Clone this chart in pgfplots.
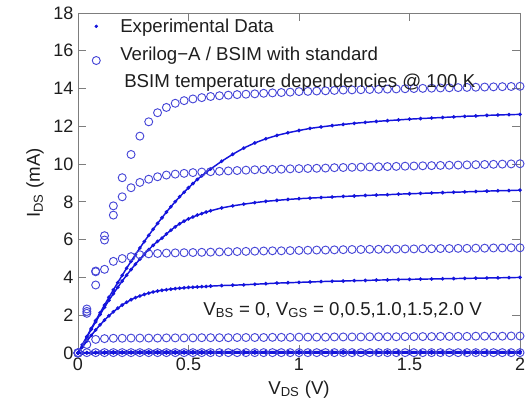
\documentclass[border=0pt]{standalone}
\usepackage{pgfplots}
\pgfplotsset{compat=1.18}
\usepackage{pgfplotstable}
\usepackage{fontspec}
\setmainfont{Liberation Sans}
\definecolor{expblue}{RGB}{20,20,220}
\definecolor{modblue}{RGB}{70,70,215}
\definecolor{axgray}{RGB}{125,125,125}
\definecolor{txt}{RGB}{30,30,30}

% model (circles): x, VGS=0, 0.5, 1.0, 1.5, 2.0
\pgfplotstableread{
x c0 c1 c2 c3 c4
0.00 0.02 0.00 0.00 0.00 0.00
0.04 0.02 0.45 2.10 2.20 2.33
0.08 0.02 0.72 3.60 4.30 4.34
0.12 0.02 0.76 4.43 5.98 6.21
0.16 0.02 0.78 4.85 7.30 7.79
0.20 0.02 0.78 5.00 8.27 9.28
0.24 0.02 0.79 5.10 8.75 10.51
0.28 0.02 0.79 5.20 9.03 11.48
0.32 0.02 0.79 5.25 9.20 12.24
0.36 0.02 0.79 5.27 9.33 12.72
0.40 0.02 0.80 5.29 9.42 13.00
0.44 0.02 0.80 5.30 9.47 13.22
0.48 0.02 0.80 5.31 9.51 13.36
0.52 0.02 0.80 5.32 9.55 13.45
0.56 0.02 0.81 5.33 9.58 13.52
0.60 0.02 0.81 5.34 9.60 13.58
0.64 0.02 0.81 5.35 9.62 13.62
0.68 0.02 0.81 5.36 9.64 13.65
0.72 0.02 0.82 5.37 9.66 13.68
0.76 0.02 0.82 5.38 9.68 13.70
0.80 0.02 0.82 5.39 9.70 13.72
0.84 0.02 0.82 5.40 9.71 13.75
0.88 0.02 0.83 5.41 9.72 13.77
0.92 0.02 0.83 5.41 9.73 13.79
0.96 0.02 0.83 5.42 9.75 13.81
1.00 0.02 0.84 5.43 9.76 13.84
1.04 0.02 0.84 5.44 9.77 13.85
1.08 0.02 0.84 5.45 9.78 13.87
1.12 0.02 0.84 5.45 9.79 13.88
1.16 0.02 0.85 5.46 9.81 13.90
1.20 0.02 0.85 5.47 9.82 13.92
1.24 0.02 0.85 5.48 9.83 13.93
1.28 0.02 0.85 5.48 9.84 13.94
1.32 0.02 0.86 5.49 9.85 13.95
1.36 0.02 0.86 5.49 9.86 13.96
1.40 0.02 0.86 5.50 9.87 13.97
1.44 0.02 0.86 5.50 9.88 13.98
1.48 0.02 0.87 5.51 9.89 13.99
1.52 0.02 0.87 5.51 9.90 14.00
1.56 0.02 0.87 5.52 9.91 14.01
1.60 0.02 0.87 5.52 9.92 14.02
1.64 0.02 0.88 5.53 9.93 14.03
1.68 0.02 0.88 5.53 9.94 14.04
1.72 0.02 0.88 5.54 9.95 14.05
1.76 0.02 0.88 5.54 9.96 14.06
1.80 0.02 0.89 5.55 9.97 14.07
1.84 0.02 0.89 5.55 9.98 14.08
1.88 0.02 0.89 5.56 9.99 14.09
1.92 0.02 0.89 5.56 10.00 14.10
1.96 0.02 0.90 5.57 10.01 14.11
2.00 0.02 0.90 5.57 10.02 14.12
}\modeldata

% experimental (dots): x, VGS=0, 0.5, 1.0, 1.5, 2.0
\pgfplotstableread{
x e0 e1 e2 e3 e4
0.00 0 0.00 0.00 0.00 0.00
0.02 0 0.01 0.32 0.42 0.44
0.04 0 0.02 0.63 0.84 0.87
0.06 0 0.03 0.93 1.25 1.30
0.08 0 0.04 1.22 1.65 1.72
0.10 0 0.05 1.49 2.04 2.13
0.12 0 0.05 1.74 2.42 2.54
0.14 0 0.06 1.97 2.79 2.95
0.16 0 0.06 2.18 3.14 3.34
0.18 0 0.06 2.37 3.48 3.73
0.20 0 0.06 2.54 3.81 4.11
0.22 0 0.06 2.69 4.12 4.49
0.24 0 0.06 2.82 4.42 4.85
0.26 0 0.07 2.93 4.70 5.21
0.28 0 0.07 3.02 4.97 5.56
0.30 0 0.07 3.10 5.23 5.90
0.32 0 0.07 3.17 5.47 6.23
0.34 0 0.07 3.23 5.70 6.55
0.36 0 0.07 3.28 5.91 6.86
0.38 0 0.07 3.32 6.08 7.16
0.40 0 0.07 3.35 6.30 7.46
0.42 0 0.07 3.38 6.50 7.74
0.44 0 0.07 3.41 6.68 8.01
0.46 0 0.07 3.43 6.84 8.27
0.48 0 0.07 3.45 6.98 8.51
0.50 0 0.07 3.47 7.10 8.75
0.52 0 0.07 3.48 7.20 8.97
0.54 0 0.07 3.50 7.30 9.19
0.56 0 0.07 3.51 7.38 9.38
0.58 0 0.07 3.52 7.46 9.57
0.60 0 0.07 3.54 7.53 9.74
0.65 0 0.07 3.57 7.68 10.15
0.70 0 0.08 3.59 7.79 10.52
0.75 0 0.08 3.61 7.88 10.85
0.80 0 0.08 3.64 7.96 11.12
0.85 0 0.08 3.67 8.03 11.34
0.90 0 0.08 3.70 8.08 11.52
0.95 0 0.08 3.72 8.13 11.66
1.00 0 0.08 3.74 8.17 11.78
1.05 0 0.08 3.76 8.20 11.89
1.10 0 0.08 3.78 8.23 11.97
1.15 0 0.08 3.80 8.26 12.04
1.20 0 0.08 3.81 8.29 12.10
1.25 0 0.08 3.83 8.31 12.16
1.30 0 0.08 3.84 8.34 12.21
1.35 0 0.08 3.86 8.36 12.26
1.40 0 0.08 3.87 8.38 12.30
1.45 0 0.08 3.89 8.41 12.34
1.50 0 0.08 3.90 8.43 12.38
1.55 0 0.08 3.91 8.45 12.41
1.60 0 0.08 3.92 8.47 12.44
1.65 0 0.08 3.93 8.49 12.47
1.70 0 0.08 3.94 8.51 12.50
1.75 0 0.08 3.95 8.53 12.53
1.80 0 0.08 3.96 8.55 12.55
1.85 0 0.08 3.97 8.57 12.58
1.90 0 0.08 3.98 8.59 12.60
1.95 0 0.08 3.99 8.60 12.62
2.00 0 0.08 4.00 8.62 12.63
}\expdata

\begin{document}
\begin{tikzpicture}
\begin{axis}[
  scale only axis, width=331.5pt, height=255pt,
  xmin=0, xmax=2, ymin=0, ymax=18,
  xtick={0,0.5,1,1.5,2}, xticklabels={0,0.5,1,1.5,2},
  ytick={0,2,4,6,8,10,12,14,16,18},
  tick align=inside, major tick length=6pt,
  axis line style={axgray, line width=0.6pt},
  every tick/.style={axgray, line width=0.6pt},
  tick label style={font=\fontsize{13.5}{16}\selectfont, text=txt},
  /pgf/number format/assume math mode=true,
  xlabel={V\textsubscript{DS} (V)},
  ylabel={I\textsubscript{DS} (mA)},
  label style={font=\fontsize{14}{17}\selectfont, text=txt},
  xlabel style={at={(axis description cs:0.5,-0.1206)}, anchor=base},
  ylabel style={at={(axis description cs:-0.086,0.5)}, anchor=base},
  clip=false,
  legend cell align=left,
  legend style={at={(rel axis cs:0,1)}, anchor=north west, xshift=7.5pt, draw=none, fill=none,
    font=\fontsize{14}{17}\selectfont, text=txt, row sep=4pt,
    /tikz/every odd column/.style={column sep=13pt}},
]
\addlegendimage{only marks, mark=*, mark size=1.1pt, expblue}
\addlegendentry{Experimental Data}
\addlegendimage{only marks, mark=o, mark size=3pt, modblue, line width=0.7pt}
\addlegendentry{\begin{tabular}{@{}l@{}}Verilog−A / BSIM with standard\\[3pt]\hspace{3pt}BSIM temperature dependencies @ 100 K\end{tabular}}

\foreach \c in {e0,e1,e2,e3,e4}{
  \addplot[expblue, line width=1.1pt, mark=*, mark size=0.75pt, forget plot] table[x=x, y=\c] {\expdata};
}
\foreach \c in {c0,c1,c2,c3,c4}{
  \addplot[modblue, only marks, mark=o, mark size=3pt, line width=0.7pt, forget plot] table[x=x, y=\c] {\modeldata};
}
\node[anchor=base west, inner sep=0pt, font=\fontsize{14}{17}\selectfont, text=txt] at (axis cs:0.566,2.01)
  {V\textsubscript{BS} = 0, V\textsubscript{GS} = 0,0.5,1.0,1.5,2.0 V};
\end{axis}
\pgfresetboundingbox
\path[use as bounding box] ([shift={(-58.5pt,-39pt)}]current axis.south west) rectangle ([shift={(5.25pt,9.75pt)}]current axis.north east);
\end{tikzpicture}
\end{document}
